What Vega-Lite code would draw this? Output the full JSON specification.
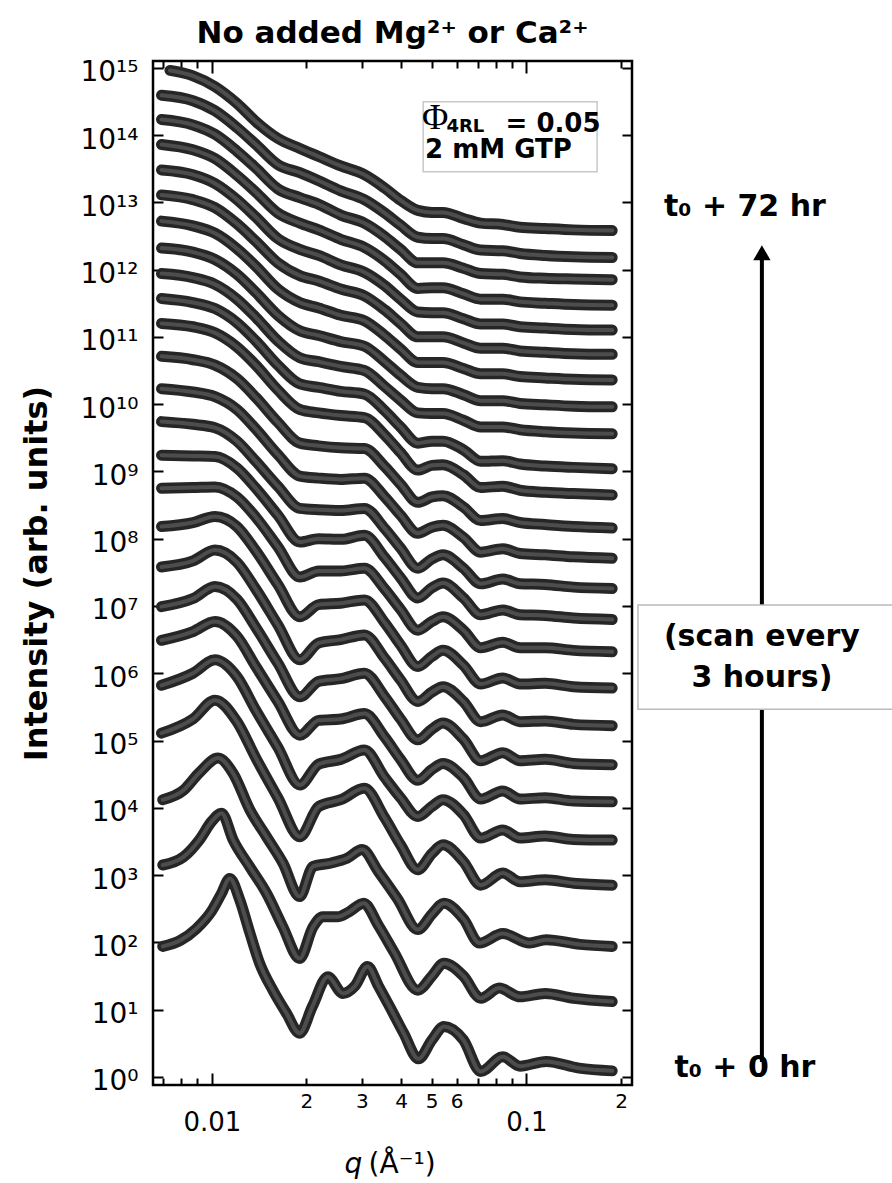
{
"$schema":"https://vega.github.io/schema/vega-lite/v6.json",
"width":479,"height":1024,
"autosize":{"type":"none"},
"padding":{"left":153,"top":61,"right":260,"bottom":98},
"background":"white",
"title":{"text":"No added Mg²⁺ or Ca²⁺","font":"DejaVu Sans","fontSize":31,"fontWeight":"bold","anchor":"middle","baseline":"alphabetic","offset":-15,"frame":"group","color":"black"},
"config":{"axis":{"grid":false,"domain":false,"tickColor":"black","tickWidth":2,"labelColor":"black","labelFont":"DejaVu Sans"},"view":{"stroke":"black","strokeWidth":2.5},"text":{"font":"DejaVu Sans","color":"black"}},
"resolve":{"axis":{"x":"independent","y":"independent"}},
"data":{"values":[
{"hr":0,"log_q":-2.156,"log_I":1.94},{"hr":0,"log_q":-2.1,"log_I":2.03},{"hr":0,"log_q":-2.05,"log_I":2.2},{"hr":0,"log_q":-2.0,"log_I":2.47},{"hr":0,"log_q":-1.97,"log_I":2.72},{"hr":0,"log_q":-1.943,"log_I":2.95},{"hr":0,"log_q":-1.911,"log_I":2.63},{"hr":0,"log_q":-1.879,"log_I":2.14},{"hr":0,"log_q":-1.848,"log_I":1.69},{"hr":0,"log_q":-1.806,"log_I":1.29},{"hr":0,"log_q":-1.763,"log_I":0.95},{"hr":0,"log_q":-1.721,"log_I":0.65},{"hr":0,"log_q":-1.68,"log_I":1.05},{"hr":0,"log_q":-1.631,"log_I":1.49},{"hr":0,"log_q":-1.583,"log_I":1.24},{"hr":0,"log_q":-1.545,"log_I":1.35},{"hr":0,"log_q":-1.505,"log_I":1.64},{"hr":0,"log_q":-1.47,"log_I":1.35},{"hr":0,"log_q":-1.434,"log_I":1.04},{"hr":0,"log_q":-1.39,"log_I":0.65},{"hr":0,"log_q":-1.343,"log_I":0.27},{"hr":0,"log_q":-1.3,"log_I":0.55},{"hr":0,"log_q":-1.262,"log_I":0.75},{"hr":0,"log_q":-1.2,"log_I":0.55},{"hr":0,"log_q":-1.145,"log_I":0.08},{"hr":0,"log_q":-1.075,"log_I":0.3},{"hr":0,"log_q":-1.02,"log_I":0.16},{"hr":0,"log_q":-0.937,"log_I":0.23},{"hr":0,"log_q":-0.832,"log_I":0.13},{"hr":0,"log_q":-0.727,"log_I":0.09},
{"hr":3,"log_q":-2.156,"log_I":3.15},{"hr":3,"log_q":-2.09,"log_I":3.27},{"hr":3,"log_q":-2.04,"log_I":3.52},{"hr":3,"log_q":-2.0,"log_I":3.8},{"hr":3,"log_q":-1.969,"log_I":3.92},{"hr":3,"log_q":-1.932,"log_I":3.52},{"hr":3,"log_q":-1.879,"log_I":3.12},{"hr":3,"log_q":-1.826,"log_I":2.73},{"hr":3,"log_q":-1.774,"log_I":2.23},{"hr":3,"log_q":-1.721,"log_I":1.76},{"hr":3,"log_q":-1.678,"log_I":2.23},{"hr":3,"log_q":-1.647,"log_I":2.38},{"hr":3,"log_q":-1.6,"log_I":2.38},{"hr":3,"log_q":-1.565,"log_I":2.45},{"hr":3,"log_q":-1.517,"log_I":2.58},{"hr":3,"log_q":-1.47,"log_I":2.25},{"hr":3,"log_q":-1.42,"log_I":1.85},{"hr":3,"log_q":-1.345,"log_I":1.29},{"hr":3,"log_q":-1.3,"log_I":1.5},{"hr":3,"log_q":-1.262,"log_I":1.69},{"hr":3,"log_q":-1.2,"log_I":1.5},{"hr":3,"log_q":-1.145,"log_I":1.17},{"hr":3,"log_q":-1.086,"log_I":1.32},{"hr":3,"log_q":-1.02,"log_I":1.19},{"hr":3,"log_q":-0.94,"log_I":1.24},{"hr":3,"log_q":-0.85,"log_I":1.17},{"hr":3,"log_q":-0.727,"log_I":1.12},
{"hr":6,"log_q":-2.156,"log_I":4.12},{"hr":6,"log_q":-2.09,"log_I":4.26},{"hr":6,"log_q":-2.04,"log_I":4.52},{"hr":6,"log_q":-1.98,"log_I":4.74},{"hr":6,"log_q":-1.932,"log_I":4.51},{"hr":6,"log_q":-1.879,"log_I":3.97},{"hr":6,"log_q":-1.826,"log_I":3.57},{"hr":6,"log_q":-1.774,"log_I":3.18},{"hr":6,"log_q":-1.721,"log_I":2.68},{"hr":6,"log_q":-1.678,"log_I":3.13},{"hr":6,"log_q":-1.62,"log_I":3.18},{"hr":6,"log_q":-1.57,"log_I":3.25},{"hr":6,"log_q":-1.522,"log_I":3.38},{"hr":6,"log_q":-1.47,"log_I":3.05},{"hr":6,"log_q":-1.41,"log_I":2.65},{"hr":6,"log_q":-1.345,"log_I":2.19},{"hr":6,"log_q":-1.3,"log_I":2.42},{"hr":6,"log_q":-1.262,"log_I":2.58},{"hr":6,"log_q":-1.2,"log_I":2.35},{"hr":6,"log_q":-1.149,"log_I":1.99},{"hr":6,"log_q":-1.075,"log_I":2.13},{"hr":6,"log_q":-0.99,"log_I":1.99},{"hr":6,"log_q":-0.937,"log_I":2.04},{"hr":6,"log_q":-0.83,"log_I":1.97},{"hr":6,"log_q":-0.727,"log_I":1.94},
{"hr":9,"log_q":-2.16,"log_I":5.11},{"hr":9,"log_q":-2.06,"log_I":5.32},{"hr":9,"log_q":-1.99,"log_I":5.6},{"hr":9,"log_q":-1.92,"log_I":5.28},{"hr":9,"log_q":-1.86,"log_I":4.74},{"hr":9,"log_q":-1.79,"log_I":4.15},{"hr":9,"log_q":-1.72,"log_I":3.57},{"hr":9,"log_q":-1.66,"log_I":4.02},{"hr":9,"log_q":-1.59,"log_I":4.12},{"hr":9,"log_q":-1.515,"log_I":4.29},{"hr":9,"log_q":-1.45,"log_I":3.85},{"hr":9,"log_q":-1.4,"log_I":3.45},{"hr":9,"log_q":-1.345,"log_I":3.08},{"hr":9,"log_q":-1.3,"log_I":3.32},{"hr":9,"log_q":-1.265,"log_I":3.45},{"hr":9,"log_q":-1.2,"log_I":3.2},{"hr":9,"log_q":-1.145,"log_I":2.85},{"hr":9,"log_q":-1.075,"log_I":3.03},{"hr":9,"log_q":-1.02,"log_I":2.9},{"hr":9,"log_q":-0.94,"log_I":2.93},{"hr":9,"log_q":-0.85,"log_I":2.88},{"hr":9,"log_q":-0.727,"log_I":2.85},
{"hr":12,"log_q":-2.16,"log_I":5.82},{"hr":12,"log_q":-2.06,"log_I":6.0},{"hr":12,"log_q":-1.99,"log_I":6.2},{"hr":12,"log_q":-1.92,"log_I":5.95},{"hr":12,"log_q":-1.86,"log_I":5.45},{"hr":12,"log_q":-1.79,"log_I":4.9},{"hr":12,"log_q":-1.72,"log_I":4.34},{"hr":12,"log_q":-1.66,"log_I":4.65},{"hr":12,"log_q":-1.59,"log_I":4.72},{"hr":12,"log_q":-1.515,"log_I":4.86},{"hr":12,"log_q":-1.45,"log_I":4.45},{"hr":12,"log_q":-1.4,"log_I":4.15},{"hr":12,"log_q":-1.345,"log_I":3.87},{"hr":12,"log_q":-1.3,"log_I":4.02},{"hr":12,"log_q":-1.265,"log_I":4.12},{"hr":12,"log_q":-1.2,"log_I":3.9},{"hr":12,"log_q":-1.145,"log_I":3.55},{"hr":12,"log_q":-1.075,"log_I":3.67},{"hr":12,"log_q":-1.02,"log_I":3.55},{"hr":12,"log_q":-0.94,"log_I":3.58},{"hr":12,"log_q":-0.85,"log_I":3.53},{"hr":12,"log_q":-0.727,"log_I":3.52},
{"hr":15,"log_q":-2.16,"log_I":6.49},{"hr":15,"log_q":-2.06,"log_I":6.62},{"hr":15,"log_q":-1.99,"log_I":6.77},{"hr":15,"log_q":-1.92,"log_I":6.55},{"hr":15,"log_q":-1.86,"log_I":6.1},{"hr":15,"log_q":-1.79,"log_I":5.58},{"hr":15,"log_q":-1.72,"log_I":5.08},{"hr":15,"log_q":-1.66,"log_I":5.3},{"hr":15,"log_q":-1.59,"log_I":5.32},{"hr":15,"log_q":-1.515,"log_I":5.4},{"hr":15,"log_q":-1.45,"log_I":5.05},{"hr":15,"log_q":-1.4,"log_I":4.72},{"hr":15,"log_q":-1.345,"log_I":4.41},{"hr":15,"log_q":-1.3,"log_I":4.57},{"hr":15,"log_q":-1.265,"log_I":4.66},{"hr":15,"log_q":-1.2,"log_I":4.45},{"hr":15,"log_q":-1.145,"log_I":4.13},{"hr":15,"log_q":-1.075,"log_I":4.25},{"hr":15,"log_q":-1.02,"log_I":4.13},{"hr":15,"log_q":-0.94,"log_I":4.15},{"hr":15,"log_q":-0.85,"log_I":4.1},{"hr":15,"log_q":-0.727,"log_I":4.09},
{"hr":18,"log_q":-2.16,"log_I":6.99},{"hr":18,"log_q":-2.06,"log_I":7.11},{"hr":18,"log_q":-1.99,"log_I":7.29},{"hr":18,"log_q":-1.92,"log_I":7.1},{"hr":18,"log_q":-1.86,"log_I":6.68},{"hr":18,"log_q":-1.79,"log_I":6.15},{"hr":18,"log_q":-1.72,"log_I":5.65},{"hr":18,"log_q":-1.66,"log_I":5.88},{"hr":18,"log_q":-1.59,"log_I":5.92},{"hr":18,"log_q":-1.515,"log_I":6.0},{"hr":18,"log_q":-1.45,"log_I":5.65},{"hr":18,"log_q":-1.4,"log_I":5.32},{"hr":18,"log_q":-1.345,"log_I":5.01},{"hr":18,"log_q":-1.3,"log_I":5.17},{"hr":18,"log_q":-1.265,"log_I":5.26},{"hr":18,"log_q":-1.2,"log_I":5.02},{"hr":18,"log_q":-1.145,"log_I":4.7},{"hr":18,"log_q":-1.075,"log_I":4.82},{"hr":18,"log_q":-1.02,"log_I":4.7},{"hr":18,"log_q":-0.94,"log_I":4.72},{"hr":18,"log_q":-0.85,"log_I":4.66},{"hr":18,"log_q":-0.727,"log_I":4.64},
{"hr":21,"log_q":-2.16,"log_I":7.58},{"hr":21,"log_q":-2.06,"log_I":7.67},{"hr":21,"log_q":-1.99,"log_I":7.83},{"hr":21,"log_q":-1.92,"log_I":7.65},{"hr":21,"log_q":-1.86,"log_I":7.25},{"hr":21,"log_q":-1.79,"log_I":6.72},{"hr":21,"log_q":-1.72,"log_I":6.2},{"hr":21,"log_q":-1.66,"log_I":6.45},{"hr":21,"log_q":-1.59,"log_I":6.5},{"hr":21,"log_q":-1.515,"log_I":6.57},{"hr":21,"log_q":-1.45,"log_I":6.22},{"hr":21,"log_q":-1.4,"log_I":5.9},{"hr":21,"log_q":-1.345,"log_I":5.58},{"hr":21,"log_q":-1.3,"log_I":5.72},{"hr":21,"log_q":-1.265,"log_I":5.8},{"hr":21,"log_q":-1.2,"log_I":5.58},{"hr":21,"log_q":-1.145,"log_I":5.28},{"hr":21,"log_q":-1.075,"log_I":5.38},{"hr":21,"log_q":-1.02,"log_I":5.28},{"hr":21,"log_q":-0.94,"log_I":5.29},{"hr":21,"log_q":-0.85,"log_I":5.24},{"hr":21,"log_q":-0.727,"log_I":5.22},
{"hr":24,"log_q":-2.16,"log_I":8.18},{"hr":24,"log_q":-2.06,"log_I":8.24},{"hr":24,"log_q":-1.99,"log_I":8.33},{"hr":24,"log_q":-1.92,"log_I":8.18},{"hr":24,"log_q":-1.86,"log_I":7.82},{"hr":24,"log_q":-1.79,"log_I":7.32},{"hr":24,"log_q":-1.72,"log_I":6.84},{"hr":24,"log_q":-1.66,"log_I":7.02},{"hr":24,"log_q":-1.59,"log_I":7.04},{"hr":24,"log_q":-1.515,"log_I":7.09},{"hr":24,"log_q":-1.45,"log_I":6.75},{"hr":24,"log_q":-1.4,"log_I":6.42},{"hr":24,"log_q":-1.345,"log_I":6.1},{"hr":24,"log_q":-1.3,"log_I":6.25},{"hr":24,"log_q":-1.265,"log_I":6.34},{"hr":24,"log_q":-1.2,"log_I":6.12},{"hr":24,"log_q":-1.145,"log_I":5.84},{"hr":24,"log_q":-1.075,"log_I":5.93},{"hr":24,"log_q":-1.02,"log_I":5.84},{"hr":24,"log_q":-0.94,"log_I":5.85},{"hr":24,"log_q":-0.85,"log_I":5.8},{"hr":24,"log_q":-0.727,"log_I":5.78},
{"hr":27,"log_q":-2.16,"log_I":8.75},{"hr":27,"log_q":-2.06,"log_I":8.76},{"hr":27,"log_q":-1.99,"log_I":8.77},{"hr":27,"log_q":-1.92,"log_I":8.62},{"hr":27,"log_q":-1.86,"log_I":8.32},{"hr":27,"log_q":-1.79,"log_I":7.88},{"hr":27,"log_q":-1.72,"log_I":7.43},{"hr":27,"log_q":-1.66,"log_I":7.52},{"hr":27,"log_q":-1.59,"log_I":7.52},{"hr":27,"log_q":-1.515,"log_I":7.56},{"hr":27,"log_q":-1.45,"log_I":7.25},{"hr":27,"log_q":-1.4,"log_I":6.95},{"hr":27,"log_q":-1.345,"log_I":6.64},{"hr":27,"log_q":-1.3,"log_I":6.77},{"hr":27,"log_q":-1.265,"log_I":6.84},{"hr":27,"log_q":-1.2,"log_I":6.64},{"hr":27,"log_q":-1.145,"log_I":6.38},{"hr":27,"log_q":-1.075,"log_I":6.46},{"hr":27,"log_q":-1.02,"log_I":6.38},{"hr":27,"log_q":-0.94,"log_I":6.38},{"hr":27,"log_q":-0.85,"log_I":6.34},{"hr":27,"log_q":-0.727,"log_I":6.32},
{"hr":30,"log_q":-2.16,"log_I":9.24},{"hr":30,"log_q":-2.06,"log_I":9.23},{"hr":30,"log_q":-1.99,"log_I":9.22},{"hr":30,"log_q":-1.92,"log_I":9.05},{"hr":30,"log_q":-1.86,"log_I":8.75},{"hr":30,"log_q":-1.79,"log_I":8.35},{"hr":30,"log_q":-1.72,"log_I":7.95},{"hr":30,"log_q":-1.66,"log_I":8.0},{"hr":30,"log_q":-1.59,"log_I":7.99},{"hr":30,"log_q":-1.515,"log_I":8.05},{"hr":30,"log_q":-1.45,"log_I":7.72},{"hr":30,"log_q":-1.4,"log_I":7.42},{"hr":30,"log_q":-1.345,"log_I":7.12},{"hr":30,"log_q":-1.3,"log_I":7.27},{"hr":30,"log_q":-1.265,"log_I":7.34},{"hr":30,"log_q":-1.2,"log_I":7.12},{"hr":30,"log_q":-1.145,"log_I":6.87},{"hr":30,"log_q":-1.075,"log_I":6.94},{"hr":30,"log_q":-1.02,"log_I":6.87},{"hr":30,"log_q":-0.94,"log_I":6.86},{"hr":30,"log_q":-0.85,"log_I":6.82},{"hr":30,"log_q":-0.727,"log_I":6.8},
{"hr":33,"log_q":-2.16,"log_I":9.74},{"hr":33,"log_q":-2.06,"log_I":9.7},{"hr":33,"log_q":-1.99,"log_I":9.65},{"hr":33,"log_q":-1.92,"log_I":9.45},{"hr":33,"log_q":-1.86,"log_I":9.15},{"hr":33,"log_q":-1.79,"log_I":8.78},{"hr":33,"log_q":-1.72,"log_I":8.45},{"hr":33,"log_q":-1.66,"log_I":8.43},{"hr":33,"log_q":-1.59,"log_I":8.42},{"hr":33,"log_q":-1.515,"log_I":8.45},{"hr":33,"log_q":-1.45,"log_I":8.15},{"hr":33,"log_q":-1.4,"log_I":7.86},{"hr":33,"log_q":-1.345,"log_I":7.56},{"hr":33,"log_q":-1.3,"log_I":7.7},{"hr":33,"log_q":-1.265,"log_I":7.76},{"hr":33,"log_q":-1.2,"log_I":7.56},{"hr":33,"log_q":-1.145,"log_I":7.33},{"hr":33,"log_q":-1.075,"log_I":7.4},{"hr":33,"log_q":-1.02,"log_I":7.33},{"hr":33,"log_q":-0.94,"log_I":7.32},{"hr":33,"log_q":-0.85,"log_I":7.28},{"hr":33,"log_q":-0.727,"log_I":7.26},
{"hr":36,"log_q":-2.16,"log_I":10.23},{"hr":36,"log_q":-2.06,"log_I":10.18},{"hr":36,"log_q":-1.99,"log_I":10.11},{"hr":36,"log_q":-1.92,"log_I":9.92},{"hr":36,"log_q":-1.86,"log_I":9.63},{"hr":36,"log_q":-1.79,"log_I":9.25},{"hr":36,"log_q":-1.72,"log_I":8.93},{"hr":36,"log_q":-1.66,"log_I":8.9},{"hr":36,"log_q":-1.59,"log_I":8.88},{"hr":36,"log_q":-1.515,"log_I":8.9},{"hr":36,"log_q":-1.45,"log_I":8.62},{"hr":36,"log_q":-1.4,"log_I":8.35},{"hr":36,"log_q":-1.345,"log_I":8.08},{"hr":36,"log_q":-1.3,"log_I":8.17},{"hr":36,"log_q":-1.265,"log_I":8.2},{"hr":36,"log_q":-1.2,"log_I":8.02},{"hr":36,"log_q":-1.145,"log_I":7.8},{"hr":36,"log_q":-1.075,"log_I":7.85},{"hr":36,"log_q":-1.02,"log_I":7.78},{"hr":36,"log_q":-0.94,"log_I":7.76},{"hr":36,"log_q":-0.85,"log_I":7.73},{"hr":36,"log_q":-0.727,"log_I":7.71},
{"hr":39,"log_q":-2.16,"log_I":10.71},{"hr":39,"log_q":-2.06,"log_I":10.66},{"hr":39,"log_q":-1.99,"log_I":10.58},{"hr":39,"log_q":-1.92,"log_I":10.38},{"hr":39,"log_q":-1.86,"log_I":10.1},{"hr":39,"log_q":-1.79,"log_I":9.73},{"hr":39,"log_q":-1.72,"log_I":9.42},{"hr":39,"log_q":-1.66,"log_I":9.38},{"hr":39,"log_q":-1.59,"log_I":9.35},{"hr":39,"log_q":-1.515,"log_I":9.34},{"hr":39,"log_q":-1.45,"log_I":9.07},{"hr":39,"log_q":-1.4,"log_I":8.81},{"hr":39,"log_q":-1.345,"log_I":8.54},{"hr":39,"log_q":-1.3,"log_I":8.62},{"hr":39,"log_q":-1.265,"log_I":8.64},{"hr":39,"log_q":-1.2,"log_I":8.47},{"hr":39,"log_q":-1.145,"log_I":8.27},{"hr":39,"log_q":-1.075,"log_I":8.3},{"hr":39,"log_q":-1.02,"log_I":8.24},{"hr":39,"log_q":-0.94,"log_I":8.21},{"hr":39,"log_q":-0.85,"log_I":8.18},{"hr":39,"log_q":-0.727,"log_I":8.16},
{"hr":42,"log_q":-2.16,"log_I":11.2},{"hr":42,"log_q":-2.06,"log_I":11.15},{"hr":42,"log_q":-1.99,"log_I":11.06},{"hr":42,"log_q":-1.92,"log_I":10.85},{"hr":42,"log_q":-1.86,"log_I":10.58},{"hr":42,"log_q":-1.79,"log_I":10.21},{"hr":42,"log_q":-1.72,"log_I":9.92},{"hr":42,"log_q":-1.66,"log_I":9.87},{"hr":42,"log_q":-1.59,"log_I":9.83},{"hr":42,"log_q":-1.515,"log_I":9.8},{"hr":42,"log_q":-1.45,"log_I":9.54},{"hr":42,"log_q":-1.4,"log_I":9.28},{"hr":42,"log_q":-1.345,"log_I":9.02},{"hr":42,"log_q":-1.3,"log_I":9.09},{"hr":42,"log_q":-1.265,"log_I":9.1},{"hr":42,"log_q":-1.2,"log_I":8.95},{"hr":42,"log_q":-1.145,"log_I":8.76},{"hr":42,"log_q":-1.075,"log_I":8.78},{"hr":42,"log_q":-1.02,"log_I":8.72},{"hr":42,"log_q":-0.94,"log_I":8.69},{"hr":42,"log_q":-0.85,"log_I":8.67},{"hr":42,"log_q":-0.727,"log_I":8.65},
{"hr":45,"log_q":-2.16,"log_I":11.57},{"hr":45,"log_q":-2.06,"log_I":11.51},{"hr":45,"log_q":-1.99,"log_I":11.42},{"hr":45,"log_q":-1.92,"log_I":11.21},{"hr":45,"log_q":-1.86,"log_I":10.94},{"hr":45,"log_q":-1.79,"log_I":10.58},{"hr":45,"log_q":-1.72,"log_I":10.3},{"hr":45,"log_q":-1.66,"log_I":10.25},{"hr":45,"log_q":-1.59,"log_I":10.19},{"hr":45,"log_q":-1.515,"log_I":10.15},{"hr":45,"log_q":-1.45,"log_I":9.9},{"hr":45,"log_q":-1.4,"log_I":9.66},{"hr":45,"log_q":-1.345,"log_I":9.42},{"hr":45,"log_q":-1.3,"log_I":9.45},{"hr":45,"log_q":-1.265,"log_I":9.45},{"hr":45,"log_q":-1.2,"log_I":9.32},{"hr":45,"log_q":-1.145,"log_I":9.15},{"hr":45,"log_q":-1.075,"log_I":9.16},{"hr":45,"log_q":-1.02,"log_I":9.11},{"hr":45,"log_q":-0.94,"log_I":9.08},{"hr":45,"log_q":-0.85,"log_I":9.06},{"hr":45,"log_q":-0.727,"log_I":9.04},
{"hr":48,"log_q":-2.16,"log_I":11.94},{"hr":48,"log_q":-2.06,"log_I":11.88},{"hr":48,"log_q":-1.99,"log_I":11.78},{"hr":48,"log_q":-1.92,"log_I":11.56},{"hr":48,"log_q":-1.86,"log_I":11.29},{"hr":48,"log_q":-1.79,"log_I":10.94},{"hr":48,"log_q":-1.72,"log_I":10.69},{"hr":48,"log_q":-1.66,"log_I":10.63},{"hr":48,"log_q":-1.59,"log_I":10.56},{"hr":48,"log_q":-1.515,"log_I":10.5},{"hr":48,"log_q":-1.45,"log_I":10.26},{"hr":48,"log_q":-1.4,"log_I":10.06},{"hr":48,"log_q":-1.345,"log_I":9.87},{"hr":48,"log_q":-1.3,"log_I":9.86},{"hr":48,"log_q":-1.265,"log_I":9.86},{"hr":48,"log_q":-1.2,"log_I":9.76},{"hr":48,"log_q":-1.145,"log_I":9.66},{"hr":48,"log_q":-1.075,"log_I":9.66},{"hr":48,"log_q":-1.02,"log_I":9.62},{"hr":48,"log_q":-0.94,"log_I":9.59},{"hr":48,"log_q":-0.85,"log_I":9.57},{"hr":48,"log_q":-0.727,"log_I":9.56},
{"hr":51,"log_q":-2.16,"log_I":12.32},{"hr":51,"log_q":-2.06,"log_I":12.26},{"hr":51,"log_q":-1.99,"log_I":12.15},{"hr":51,"log_q":-1.92,"log_I":11.93},{"hr":51,"log_q":-1.86,"log_I":11.66},{"hr":51,"log_q":-1.79,"log_I":11.32},{"hr":51,"log_q":-1.72,"log_I":11.09},{"hr":51,"log_q":-1.66,"log_I":11.02},{"hr":51,"log_q":-1.59,"log_I":10.93},{"hr":51,"log_q":-1.515,"log_I":10.86},{"hr":51,"log_q":-1.45,"log_I":10.63},{"hr":51,"log_q":-1.4,"log_I":10.43},{"hr":51,"log_q":-1.345,"log_I":10.25},{"hr":51,"log_q":-1.3,"log_I":10.23},{"hr":51,"log_q":-1.265,"log_I":10.23},{"hr":51,"log_q":-1.2,"log_I":10.14},{"hr":51,"log_q":-1.145,"log_I":10.05},{"hr":51,"log_q":-1.075,"log_I":10.05},{"hr":51,"log_q":-1.02,"log_I":10.01},{"hr":51,"log_q":-0.94,"log_I":9.99},{"hr":51,"log_q":-0.85,"log_I":9.97},{"hr":51,"log_q":-0.727,"log_I":9.96},
{"hr":54,"log_q":-2.16,"log_I":12.72},{"hr":54,"log_q":-2.06,"log_I":12.65},{"hr":54,"log_q":-1.99,"log_I":12.54},{"hr":54,"log_q":-1.92,"log_I":12.31},{"hr":54,"log_q":-1.86,"log_I":12.05},{"hr":54,"log_q":-1.79,"log_I":11.71},{"hr":54,"log_q":-1.72,"log_I":11.51},{"hr":54,"log_q":-1.66,"log_I":11.43},{"hr":54,"log_q":-1.59,"log_I":11.32},{"hr":54,"log_q":-1.515,"log_I":11.24},{"hr":54,"log_q":-1.45,"log_I":11.02},{"hr":54,"log_q":-1.4,"log_I":10.82},{"hr":54,"log_q":-1.345,"log_I":10.62},{"hr":54,"log_q":-1.3,"log_I":10.62},{"hr":54,"log_q":-1.265,"log_I":10.62},{"hr":54,"log_q":-1.2,"log_I":10.53},{"hr":54,"log_q":-1.145,"log_I":10.45},{"hr":54,"log_q":-1.075,"log_I":10.45},{"hr":54,"log_q":-1.02,"log_I":10.41},{"hr":54,"log_q":-0.94,"log_I":10.39},{"hr":54,"log_q":-0.85,"log_I":10.37},{"hr":54,"log_q":-0.727,"log_I":10.36},
{"hr":57,"log_q":-2.16,"log_I":13.11},{"hr":57,"log_q":-2.06,"log_I":13.04},{"hr":57,"log_q":-1.99,"log_I":12.92},{"hr":57,"log_q":-1.92,"log_I":12.68},{"hr":57,"log_q":-1.86,"log_I":12.42},{"hr":57,"log_q":-1.79,"log_I":12.1},{"hr":57,"log_q":-1.72,"log_I":11.91},{"hr":57,"log_q":-1.66,"log_I":11.83},{"hr":57,"log_q":-1.59,"log_I":11.71},{"hr":57,"log_q":-1.515,"log_I":11.61},{"hr":57,"log_q":-1.45,"log_I":11.4},{"hr":57,"log_q":-1.4,"log_I":11.2},{"hr":57,"log_q":-1.345,"log_I":11.0},{"hr":57,"log_q":-1.3,"log_I":11.0},{"hr":57,"log_q":-1.265,"log_I":11.0},{"hr":57,"log_q":-1.2,"log_I":10.91},{"hr":57,"log_q":-1.145,"log_I":10.83},{"hr":57,"log_q":-1.075,"log_I":10.83},{"hr":57,"log_q":-1.02,"log_I":10.79},{"hr":57,"log_q":-0.94,"log_I":10.77},{"hr":57,"log_q":-0.85,"log_I":10.75},{"hr":57,"log_q":-0.727,"log_I":10.74},
{"hr":60,"log_q":-2.16,"log_I":13.48},{"hr":60,"log_q":-2.06,"log_I":13.41},{"hr":60,"log_q":-1.99,"log_I":13.28},{"hr":60,"log_q":-1.92,"log_I":13.04},{"hr":60,"log_q":-1.86,"log_I":12.78},{"hr":60,"log_q":-1.79,"log_I":12.46},{"hr":60,"log_q":-1.72,"log_I":12.3},{"hr":60,"log_q":-1.66,"log_I":12.21},{"hr":60,"log_q":-1.59,"log_I":12.07},{"hr":60,"log_q":-1.515,"log_I":11.96},{"hr":60,"log_q":-1.45,"log_I":11.76},{"hr":60,"log_q":-1.4,"log_I":11.56},{"hr":60,"log_q":-1.345,"log_I":11.37},{"hr":60,"log_q":-1.3,"log_I":11.36},{"hr":60,"log_q":-1.265,"log_I":11.36},{"hr":60,"log_q":-1.2,"log_I":11.27},{"hr":60,"log_q":-1.145,"log_I":11.19},{"hr":60,"log_q":-1.075,"log_I":11.19},{"hr":60,"log_q":-1.02,"log_I":11.15},{"hr":60,"log_q":-0.94,"log_I":11.13},{"hr":60,"log_q":-0.85,"log_I":11.11},{"hr":60,"log_q":-0.727,"log_I":11.1},
{"hr":63,"log_q":-2.16,"log_I":13.86},{"hr":63,"log_q":-2.06,"log_I":13.78},{"hr":63,"log_q":-1.99,"log_I":13.65},{"hr":63,"log_q":-1.92,"log_I":13.4},{"hr":63,"log_q":-1.86,"log_I":13.15},{"hr":63,"log_q":-1.79,"log_I":12.84},{"hr":63,"log_q":-1.72,"log_I":12.69},{"hr":63,"log_q":-1.66,"log_I":12.59},{"hr":63,"log_q":-1.59,"log_I":12.45},{"hr":63,"log_q":-1.515,"log_I":12.33},{"hr":63,"log_q":-1.45,"log_I":12.13},{"hr":63,"log_q":-1.4,"log_I":11.93},{"hr":63,"log_q":-1.345,"log_I":11.72},{"hr":63,"log_q":-1.3,"log_I":11.73},{"hr":63,"log_q":-1.265,"log_I":11.73},{"hr":63,"log_q":-1.2,"log_I":11.64},{"hr":63,"log_q":-1.145,"log_I":11.56},{"hr":63,"log_q":-1.075,"log_I":11.56},{"hr":63,"log_q":-1.02,"log_I":11.52},{"hr":63,"log_q":-0.94,"log_I":11.5},{"hr":63,"log_q":-0.85,"log_I":11.48},{"hr":63,"log_q":-0.727,"log_I":11.47},
{"hr":66,"log_q":-2.16,"log_I":14.23},{"hr":66,"log_q":-2.06,"log_I":14.15},{"hr":66,"log_q":-1.99,"log_I":14.01},{"hr":66,"log_q":-1.92,"log_I":13.76},{"hr":66,"log_q":-1.86,"log_I":13.51},{"hr":66,"log_q":-1.79,"log_I":13.2},{"hr":66,"log_q":-1.72,"log_I":13.07},{"hr":66,"log_q":-1.66,"log_I":12.97},{"hr":66,"log_q":-1.59,"log_I":12.81},{"hr":66,"log_q":-1.515,"log_I":12.69},{"hr":66,"log_q":-1.45,"log_I":12.49},{"hr":66,"log_q":-1.4,"log_I":12.3},{"hr":66,"log_q":-1.345,"log_I":12.1},{"hr":66,"log_q":-1.3,"log_I":12.1},{"hr":66,"log_q":-1.265,"log_I":12.1},{"hr":66,"log_q":-1.2,"log_I":12.02},{"hr":66,"log_q":-1.145,"log_I":11.94},{"hr":66,"log_q":-1.075,"log_I":11.93},{"hr":66,"log_q":-1.02,"log_I":11.89},{"hr":66,"log_q":-0.94,"log_I":11.87},{"hr":66,"log_q":-0.85,"log_I":11.86},{"hr":66,"log_q":-0.727,"log_I":11.85},
{"hr":69,"log_q":-2.16,"log_I":14.59},{"hr":69,"log_q":-2.06,"log_I":14.51},{"hr":69,"log_q":-1.99,"log_I":14.36},{"hr":69,"log_q":-1.92,"log_I":14.11},{"hr":69,"log_q":-1.86,"log_I":13.86},{"hr":69,"log_q":-1.79,"log_I":13.56},{"hr":69,"log_q":-1.72,"log_I":13.44},{"hr":69,"log_q":-1.66,"log_I":13.32},{"hr":69,"log_q":-1.59,"log_I":13.17},{"hr":69,"log_q":-1.515,"log_I":13.04},{"hr":69,"log_q":-1.45,"log_I":12.84},{"hr":69,"log_q":-1.4,"log_I":12.66},{"hr":69,"log_q":-1.345,"log_I":12.48},{"hr":69,"log_q":-1.3,"log_I":12.46},{"hr":69,"log_q":-1.265,"log_I":12.46},{"hr":69,"log_q":-1.2,"log_I":12.37},{"hr":69,"log_q":-1.145,"log_I":12.29},{"hr":69,"log_q":-1.075,"log_I":12.28},{"hr":69,"log_q":-1.02,"log_I":12.24},{"hr":69,"log_q":-0.94,"log_I":12.21},{"hr":69,"log_q":-0.85,"log_I":12.19},{"hr":69,"log_q":-0.727,"log_I":12.18},
{"hr":72,"log_q":-2.133,"log_I":14.96},{"hr":72,"log_q":-2.06,"log_I":14.88},{"hr":72,"log_q":-1.99,"log_I":14.72},{"hr":72,"log_q":-1.92,"log_I":14.47},{"hr":72,"log_q":-1.86,"log_I":14.2},{"hr":72,"log_q":-1.79,"log_I":13.95},{"hr":72,"log_q":-1.72,"log_I":13.8},{"hr":72,"log_q":-1.66,"log_I":13.68},{"hr":72,"log_q":-1.59,"log_I":13.54},{"hr":72,"log_q":-1.515,"log_I":13.41},{"hr":72,"log_q":-1.45,"log_I":13.21},{"hr":72,"log_q":-1.4,"log_I":13.03},{"hr":72,"log_q":-1.345,"log_I":12.88},{"hr":72,"log_q":-1.3,"log_I":12.85},{"hr":72,"log_q":-1.265,"log_I":12.85},{"hr":72,"log_q":-1.2,"log_I":12.76},{"hr":72,"log_q":-1.145,"log_I":12.69},{"hr":72,"log_q":-1.075,"log_I":12.67},{"hr":72,"log_q":-1.02,"log_I":12.63},{"hr":72,"log_q":-0.94,"log_I":12.61},{"hr":72,"log_q":-0.85,"log_I":12.59},{"hr":72,"log_q":-0.727,"log_I":12.58}
]},
"layer":[
{"mark":{"type":"line","interpolate":"monotone","strokeWidth":11,"color":"#262626","strokeCap":"round","strokeJoin":"round"},
 "encoding":{
  "x":{"field":"log_q","type":"quantitative","scale":{"domain":[-2.187,-0.664],"nice":false,"zero":false},
   "axis":{"orient":"bottom","title":null,"values":[-2.1549,-2.0969,-2.0458,-2,-1.699,-1.5229,-1.3979,-1.301,-1.2218,-1.1549,-1.0969,-1.0458,-1,-0.699],
    "labelExpr":"datum.value == -2 ? '0.01' : datum.value == -1 ? '0.1' : ((datum.value > -1.95 && datum.value < -1.2) || datum.value > -0.8) ? format(round(pow(10, datum.value - floor(datum.value))), 'd') : ''",
    "labelFontSize":{"condition":{"test":"datum.value == -2 || datum.value == -1","value":26},"value":20},
    "labelPadding":{"condition":{"test":"datum.value == -2 || datum.value == -1","value":36},"value":13},
    "tickSize":{"condition":{"test":"datum.value == -2 || datum.value == -1","value":-12},"value":-7},
    "labelBaseline":"top","labelAlign":"center","labelOverlap":false,"labelFlush":false,"labelBound":false}},
  "y":{"field":"log_I","type":"quantitative","scale":{"domain":[-0.12,15.1],"nice":false,"zero":false},
   "axis":{"orient":"left","values":[0,1,2,3,4,5,6,7,8,9,10,11,12,13,14,15],"title":"Intensity (arb. units)","titleFont":"DejaVu Sans","titleFontSize":32,"titleFontWeight":"bold","titleColor":"black","titlePadding":26,
    "labelExpr":"'10' + (datum.value < 10 ? substring('⁰¹²³⁴⁵⁶⁷⁸⁹', datum.value, datum.value + 1) : '¹' + substring('⁰¹²³⁴⁵⁶⁷⁸⁹', datum.value - 10, datum.value - 9))",
    "labelFontSize":28,"labelPadding":25,"tickSize":-10,"labelBaseline":"middle","labelOffset":5,"labelOverlap":false,"labelFlush":false,"labelBound":false}},
  "detail":{"field":"hr","type":"nominal"}}},
{"mark":{"type":"line","interpolate":"monotone","strokeWidth":4,"color":"#4d4d4d","strokeCap":"round","strokeJoin":"round"},
 "encoding":{
  "x":{"field":"log_q","type":"quantitative","axis":{"orient":"top","title":null,"labels":false,"values":[-2.1549,-2.0969,-2.0458,-2,-1.699,-1.5229,-1.3979,-1.301,-1.2218,-1.1549,-1.0969,-1.0458,-1,-0.699],
    "tickSize":{"condition":{"test":"datum.value == -2 || datum.value == -1","value":-12},"value":-7}}},
  "y":{"field":"log_I","type":"quantitative","axis":{"orient":"right","title":null,"labels":false,"values":[0,1,2,3,4,5,6,7,8,9,10,11,12,13,14,15],"tickSize":-10}},
  "detail":{"field":"hr","type":"nominal"}}},
{"data":{"values":[{}]},"mark":{"type":"rect","fill":"white","stroke":"#c8c8c8","strokeWidth":1.5},
 "encoding":{"x":{"datum":-1.328,"type":"quantitative","axis":null},"x2":{"datum":-0.775},"y":{"datum":14.495,"type":"quantitative","axis":null},"y2":{"datum":13.455}}},
{"data":{"values":[{}]},"mark":{"type":"text","text":"Φ","font":"Liberation Serif","fontSize":36,"align":"center","baseline":"middle"},
 "encoding":{"x":{"datum":-1.29,"type":"quantitative","axis":null},"y":{"datum":14.25,"type":"quantitative","axis":null}}},
{"data":{"values":[{}]},"mark":{"type":"text","text":"4RL","fontSize":18,"fontWeight":"bold","align":"left","baseline":"middle"},
 "encoding":{"x":{"datum":-1.254,"type":"quantitative","axis":null},"y":{"datum":14.12,"type":"quantitative","axis":null}}},
{"data":{"values":[{}]},"mark":{"type":"text","text":"= 0.05","fontSize":26,"fontWeight":"bold","align":"left","baseline":"middle"},
 "encoding":{"x":{"datum":-1.066,"type":"quantitative","axis":null},"y":{"datum":14.164,"type":"quantitative","axis":null}}},
{"data":{"values":[{}]},"mark":{"type":"text","text":"2 mM GTP","fontSize":26,"fontWeight":"bold","align":"left","baseline":"middle"},
 "encoding":{"x":{"datum":-1.322,"type":"quantitative","axis":null},"y":{"datum":13.777,"type":"quantitative","axis":null}}},
{"data":{"values":[{}]},"mark":{"type":"rule","strokeWidth":4,"color":"black"},
 "encoding":{"x":{"datum":-0.251,"type":"quantitative","axis":null},"y":{"datum":0.22,"type":"quantitative","axis":null},"y2":{"datum":12.22}}},
{"data":{"values":[{}]},"mark":{"type":"point","shape":"triangle-up","filled":true,"size":300,"color":"black","opacity":1},
 "encoding":{"x":{"datum":-0.251,"type":"quantitative","axis":null},"y":{"datum":12.25,"type":"quantitative","axis":null}}},
{"data":{"values":[{}]},"mark":{"type":"rect","fill":"white","stroke":"#bbbbbb","strokeWidth":1.5},
 "encoding":{"x":{"datum":-0.645,"type":"quantitative","axis":null},"x2":{"datum":0.2},"y":{"datum":7.014,"type":"quantitative","axis":null},"y2":{"datum":5.464}}},
{"data":{"values":[{}]},"mark":{"type":"text","text":"(scan every","fontSize":30,"fontWeight":"bold","align":"center","baseline":"middle"},
 "encoding":{"x":{"datum":-0.251,"type":"quantitative","axis":null},"y":{"datum":6.543,"type":"quantitative","axis":null}}},
{"data":{"values":[{}]},"mark":{"type":"text","text":"3 hours)","fontSize":30,"fontWeight":"bold","align":"center","baseline":"middle"},
 "encoding":{"x":{"datum":-0.251,"type":"quantitative","axis":null},"y":{"datum":5.925,"type":"quantitative","axis":null}}},
{"data":{"values":[{}]},"mark":{"type":"text","text":"t₀ + 72 hr","fontSize":30,"fontWeight":"bold","align":"center","baseline":"middle"},
 "encoding":{"x":{"datum":-0.305,"type":"quantitative","axis":null},"y":{"datum":12.93,"type":"quantitative","axis":null}}},
{"data":{"values":[{}]},"mark":{"type":"text","text":"t₀ + 0 hr","fontSize":30,"fontWeight":"bold","align":"center","baseline":"middle"},
 "encoding":{"x":{"datum":-0.305,"type":"quantitative","axis":null},"y":{"datum":0.13,"type":"quantitative","axis":null}}},
{"data":{"values":[{}]},"mark":{"type":"text","text":"q","fontSize":28,"fontStyle":"italic","align":"center","baseline":"middle"},
 "encoding":{"x":{"datum":-1.55,"type":"quantitative","axis":null},"y":{"datum":-1.31,"type":"quantitative","axis":null}}},
{"data":{"values":[{}]},"mark":{"type":"text","text":"(Å⁻¹)","fontSize":28,"align":"center","baseline":"middle"},
 "encoding":{"x":{"datum":-1.395,"type":"quantitative","axis":null},"y":{"datum":-1.31,"type":"quantitative","axis":null}}}
]
}
